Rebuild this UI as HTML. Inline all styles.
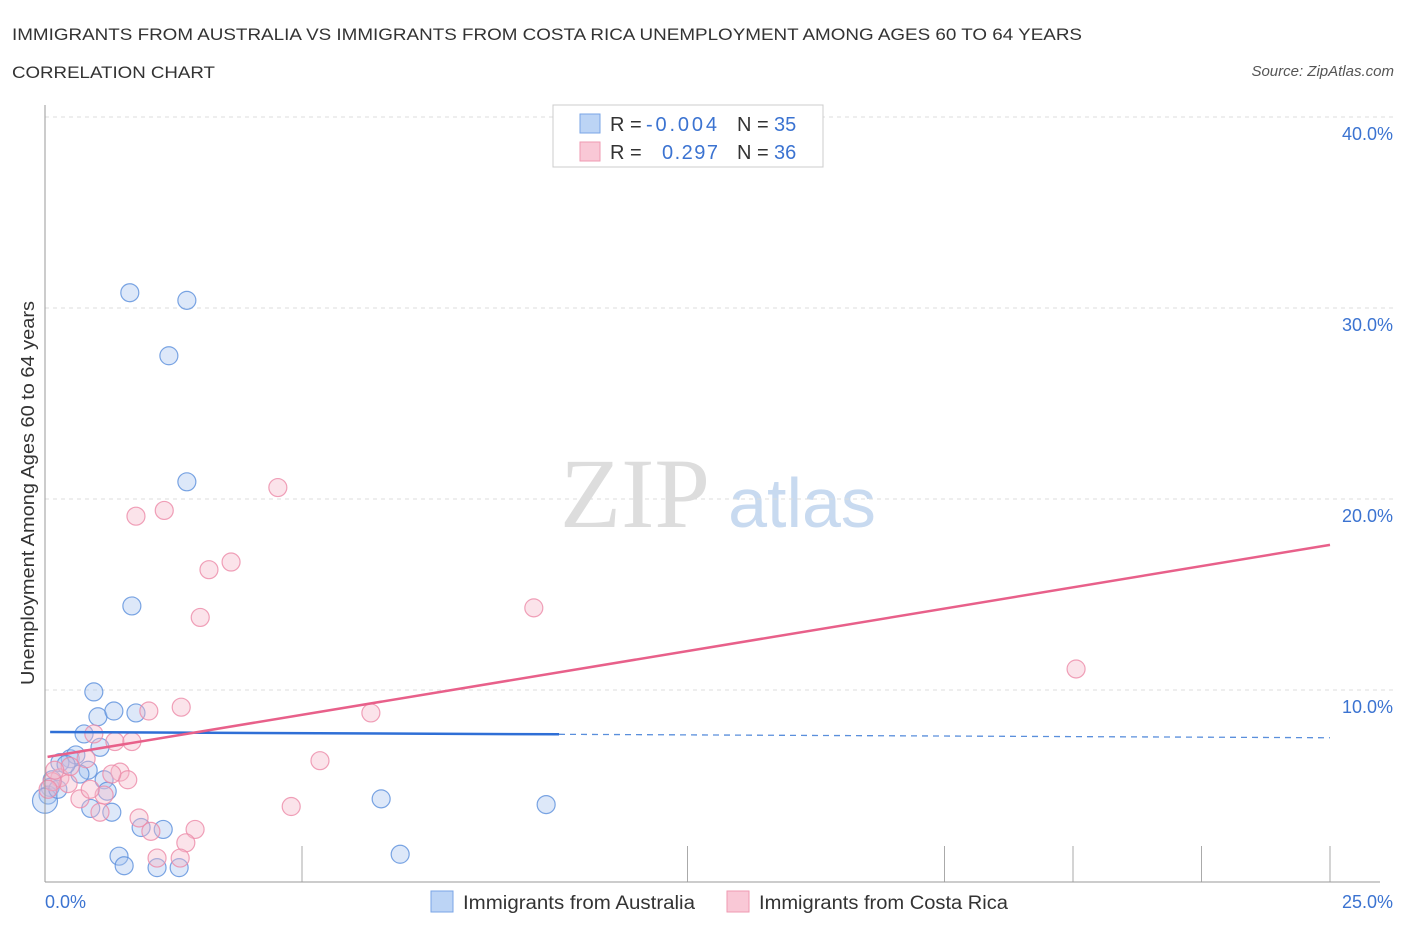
<!DOCTYPE html>
<html><head><meta charset="utf-8"><style>
body{margin:0;background:#fff;font-family:"Liberation Sans",sans-serif;}
</style></head><body>
<svg id="c" width="1406" height="930" xmlns="http://www.w3.org/2000/svg" font-family="Liberation Sans, sans-serif">
<text x="12" y="40" font-size="17" fill="#333" textLength="1070" lengthAdjust="spacingAndGlyphs">IMMIGRANTS FROM AUSTRALIA VS IMMIGRANTS FROM COSTA RICA UNEMPLOYMENT AMONG AGES 60 TO 64 YEARS</text>
<text x="12" y="78" font-size="17" fill="#333" textLength="203" lengthAdjust="spacingAndGlyphs">CORRELATION CHART</text>
<text x="1394" y="76" font-size="15" fill="#555" font-style="italic" text-anchor="end">Source: ZipAtlas.com</text>
<text x="635" y="527" font-size="100" fill="#ddd" font-family="Liberation Serif, serif" text-anchor="middle">ZIP</text>
<text x="802" y="527" font-size="70" fill="#c8daf0" text-anchor="middle">atlas</text>
<text transform="translate(34,493) rotate(-90)" font-size="18" fill="#333" text-anchor="middle" textLength="384" lengthAdjust="spacingAndGlyphs">Unemployment Among Ages 60 to 64 years</text>
<g id="grid"></g><g id="ticks"></g><g id="marks"></g>
<line x1="45" y1="105" x2="45" y2="882" stroke="#999"/>
<line x1="45" y1="882" x2="1380" y2="882" stroke="#999"/>
<text x="45" y="908" font-size="18" fill="#3b73d1">0.0%</text>
<text x="1393" y="908" font-size="18" fill="#3b73d1" text-anchor="end">25.0%</text>
<g>
<rect x="553" y="105" width="270" height="62" fill="#fff" stroke="#ccc"/>
<rect x="580" y="114" width="20" height="19" fill="#bcd4f5" stroke="#7aa5e6"/>
<rect x="580" y="142" width="20" height="19" fill="#f9c8d6" stroke="#ef9ab2"/>
<text y="131" font-size="20" fill="#333"><tspan x="610">R =</tspan><tspan x="646" fill="#3b73d1" textLength="71">-0.004</tspan><tspan x="737">N =</tspan><tspan x="774" fill="#3b73d1">35</tspan></text>
<text y="159" font-size="20" fill="#333"><tspan x="610">R =</tspan><tspan x="662" fill="#3b73d1" textLength="56">0.297</tspan><tspan x="737">N =</tspan><tspan x="774" fill="#3b73d1">36</tspan></text>
</g>
<rect x="431" y="891" width="22" height="21" fill="#bcd4f5" stroke="#7aa5e6"/>
<text x="463" y="909" font-size="19" fill="#333" textLength="232" lengthAdjust="spacingAndGlyphs">Immigrants from Australia</text>
<rect x="727" y="891" width="22" height="21" fill="#f9c8d6" stroke="#ef9ab2"/>
<text x="759" y="909" font-size="19" fill="#333" textLength="249" lengthAdjust="spacingAndGlyphs">Immigrants from Costa Rica</text>
</svg>
<script>
const yTicks=[10,20,30,40];
const xTickVals=[5,12.5,17.5,20,22.5,25];
const ausX=[1.65,2.76,2.41,2.76,1.69,0.95,1.03,1.34,1.77,0.76,1.07,0.49,0.60,0.29,0.84,0.68,1.15,0.14,0.10,0.06,0.0,1.21,0.89,1.30,1.87,2.30,6.54,9.75,1.44,1.54,2.18,2.61,6.91,0.25,0.41];
const ausY=[30.8,30.4,27.5,20.9,14.4,9.9,8.6,8.9,8.8,7.7,7.0,6.4,6.6,6.2,5.8,5.6,5.3,5.3,4.9,4.5,4.2,4.7,3.8,3.6,2.8,2.7,4.3,4.0,1.3,0.8,0.7,0.7,1.4,4.8,6.1];
const crX=[4.53,1.77,2.32,3.19,3.62,3.02,9.51,20.06,2.02,2.65,6.34,0.95,1.36,1.69,5.35,0.80,1.46,1.61,1.30,0.29,0.45,0.14,0.68,1.15,4.79,1.07,1.83,2.06,2.92,2.74,2.18,2.63,0.06,0.49,0.88,0.19];
const crY=[20.6,19.1,19.4,16.3,16.7,13.8,14.3,11.1,8.9,9.1,8.8,7.7,7.3,7.3,6.3,6.4,5.7,5.3,5.6,5.4,5.1,5.2,4.3,4.5,3.9,3.6,3.3,2.6,2.7,2.0,1.2,1.2,4.8,6.0,4.8,5.8];
const ausTrend=[7.8,7.5];
const crTrend=[6.5,17.6];
const X=v=>45+v/25*1285, Y=v=>881-v*19.1;
const NS='http://www.w3.org/2000/svg';
function mk(t,a,p){const e=document.createElementNS(NS,t);for(const k in a)e.setAttribute(k,a[k]);document.getElementById(p).appendChild(e);return e;}
yTicks.forEach(v=>{
 const l=mk('line',{x1:45,x2:1395,y1:Y(v),y2:Y(v),stroke:'#ddd','stroke-dasharray':'4,4'},'grid');
 
 
 const t=mk('text',{x:1393,y:Y(v)+23,'font-size':18,fill:'#3b73d1','text-anchor':'end'},'grid');
 t.textContent=v.toFixed(1)+'%';
 
 
});
xTickVals.forEach(v=>{
 const l=mk('line',{x1:X(v),x2:X(v),y1:846,y2:882,stroke:'#aaa'},'ticks');
 
 
});
function pts(xs,ys,fill,stroke,name){xs.forEach((x,i)=>{
 const c=mk('circle',{cx:X(x),cy:Y(ys[i]),r:(x===0?12.5:9),fill:fill,'fill-opacity':0.4,stroke:stroke,'stroke-width':1.2,'stroke-opacity':0.8},'marks');
 
 
});}
pts(ausX,ausY,'#a9c6f0','#5a8fdc','australia-point');
pts(crX,crY,'#f6b9cb','#ec8aa8','costa-rica-point');
const m1=ausTrend[0]+(ausTrend[1]-ausTrend[0])*0.4;
let l=mk('line',{x1:X(0.1),y1:Y(ausTrend[0]),x2:X(10),y2:Y(m1),stroke:'#2f6fd6','stroke-width':2.5},'marks');


l=mk('line',{x1:X(10),y1:Y(m1),x2:X(25),y2:Y(ausTrend[1]),stroke:'#5a8fdc','stroke-width':1.3,'stroke-dasharray':'6,5'},'marks');


l=mk('line',{x1:X(0.05),y1:Y(crTrend[0]),x2:X(25),y2:Y(crTrend[1]),stroke:'#e8608a','stroke-width':2.5},'marks');


</script>
</body></html>
